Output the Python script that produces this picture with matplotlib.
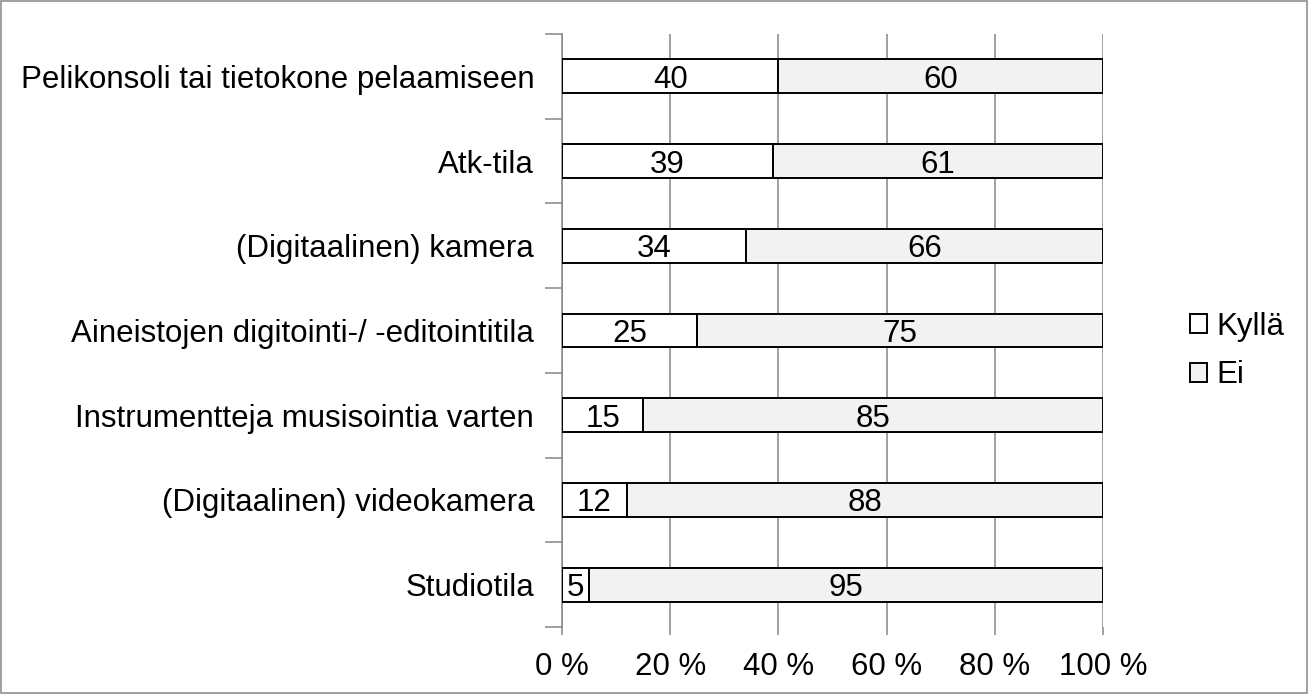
import numpy as np
import matplotlib.pyplot as plt
from matplotlib.patches import Rectangle
from matplotlib.ticker import FixedLocator

plt.rcParams['font.family'] = ['Liberation Sans', 'DejaVu Sans']

categories = ['Pelikonsoli tai tietokone pelaamiseen', 'Atk-tila', '(Digitaalinen) kamera',
              'Aineistojen digitointi-/ -editointitila', 'Instrumentteja musisointia varten',
              '(Digitaalinen) videokamera', 'Studiotila']
kylla = [40, 39, 34, 25, 15, 12, 5]
ei = [60, 61, 66, 75, 85, 88, 95]
xticks = [0, 20, 40, 60, 80, 100]
xticklabels = ['0 %', '20 %', '40 %', '60 %', '80 %', '100 %']

fs = 22.5
fig = plt.figure(figsize=(13.08, 6.94), dpi=100)
ax = fig.add_axes([562/1308, 1-627/694, (1103-562)/1308, (627-34)/694])

n = len(categories)
y = np.arange(n)[::-1]
gray = '#868686'

ax.barh(y, kylla, height=0.4, color='white', edgecolor='black', linewidth=1.4, label='Kyllä', zorder=3)
ax.barh(y, ei, left=kylla, height=0.4, color='#f2f2f2', edgecolor='black', linewidth=1.4, label='Ei', zorder=3)

for yi, k, e in zip(y, kylla, ei):
    ax.text(k/2, yi, str(k), ha='center', va='center_baseline', fontsize=fs, zorder=4)
    ax.text(k + e/2, yi, str(e), ha='center', va='center_baseline', fontsize=fs, zorder=4)

ax.set_xlim(0, 100)
ax.set_ylim(-0.5, n-0.5)
ax.set_xticks(xticks)
ax.set_xticklabels(xticklabels, fontsize=fs)
ax.set_yticks(y)
ax.set_yticklabels(categories, fontsize=fs)
ax.yaxis.set_minor_locator(FixedLocator(np.arange(-0.5, n, 1.0)))
ax.tick_params(axis='y', which='major', length=0, pad=20)
ax.tick_params(axis='y', which='minor', length=12, color=gray, width=1.1)
ax.tick_params(axis='x', length=6, color=gray, width=1.1, pad=12)

ax.grid(axis='x', color=gray, linewidth=1.1, zorder=0)
ax.set_axisbelow(True)
for s in ['top', 'right', 'bottom']:
    ax.spines[s].set_visible(False)
ax.spines['left'].set_color(gray)
ax.spines['left'].set_linewidth(1.1)

handles, labels = ax.get_legend_handles_labels()
fig.legend(handles, labels, loc='center left', bbox_to_anchor=(1190/1308, 1-351/694),
           frameon=False, fontsize=fs, handlelength=0.55, handleheight=0.55,
           handletextpad=0.3, labelspacing=0.6, borderpad=0, borderaxespad=0)

fig.patches.append(Rectangle((0.001, 0.001), 0.998, 0.998, transform=fig.transFigure,
                             fill=False, edgecolor=gray, linewidth=1.1))

fig.savefig('out.png', dpi=100)
